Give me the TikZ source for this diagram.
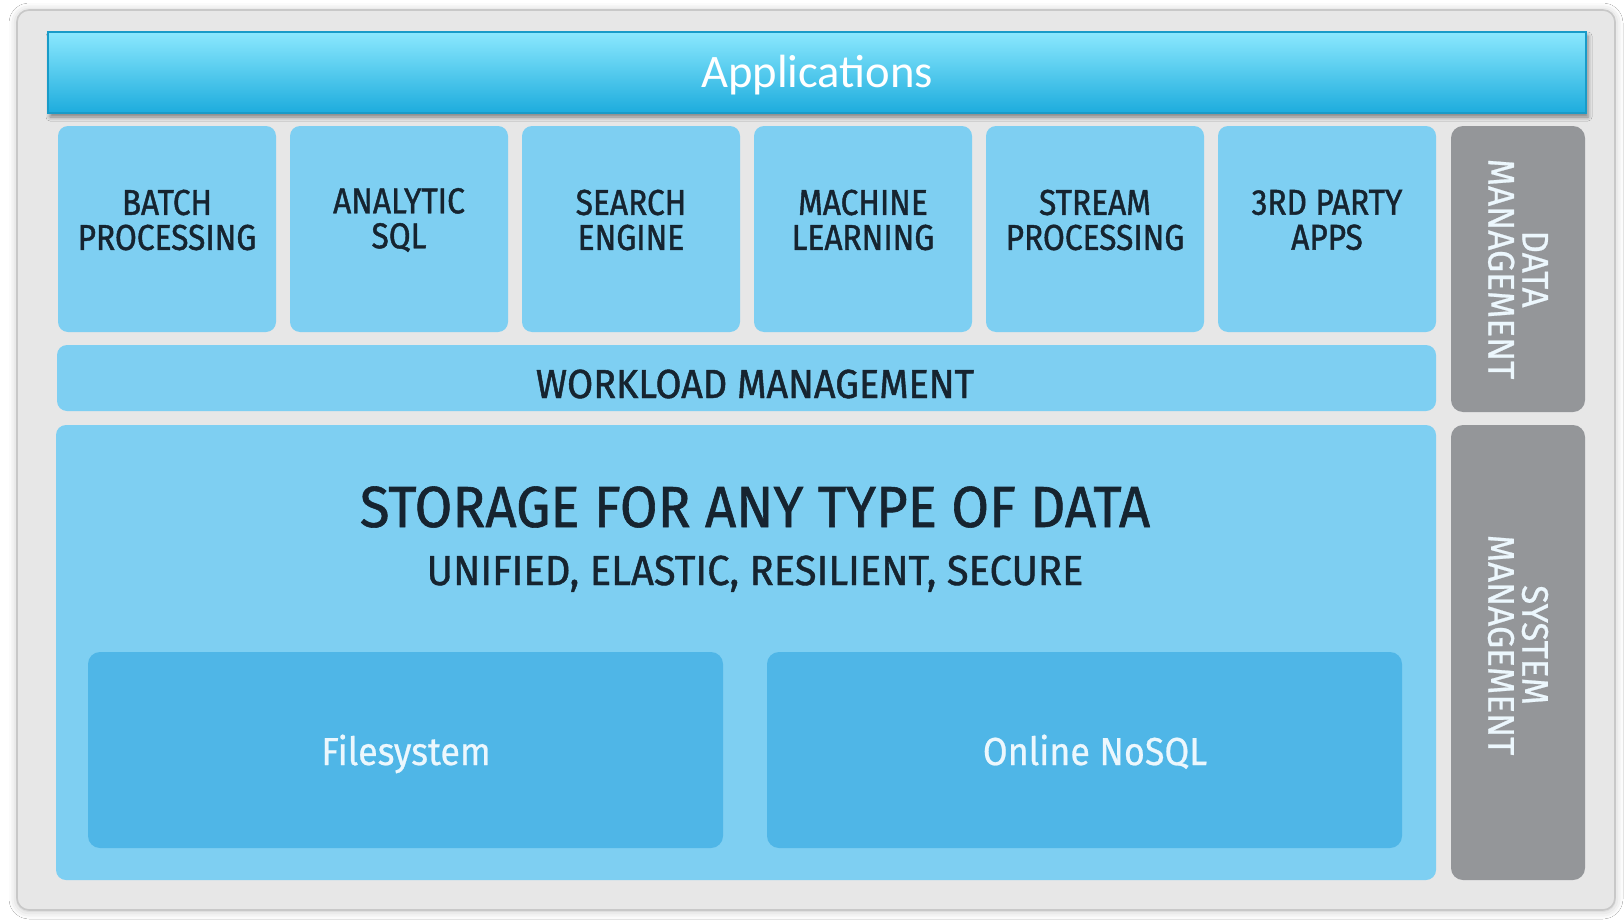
\documentclass[tikz,border=0pt]{standalone}
\usepackage{fontspec}
\setmainfont{Fira Sans}
\newfontfamily\tilefont[FakeStretch=0.88,FakeBold=1.2]{Fira Sans}
\newfontfamily\bandfont[FakeStretch=0.93,FakeBold=1.2]{Fira Sans}
\newfontfamily\headfont[FakeStretch=0.94,FakeBold=1.0]{Fira Sans}
\newfontfamily\subfont[FakeStretch=0.95,FakeBold=1.0]{Fira Sans}
\newfontfamily\deepfont[FakeStretch=0.92,FakeBold=0.6]{Fira Sans}
\newfontfamily\sidefont[FakeStretch=0.95,FakeBold=0.6]{Fira Sans}
\newfontfamily\appfont{Carlito}
\usetikzlibrary{fit,shadows.blur}

\definecolor{panel}{RGB}{231,231,231}
\definecolor{panelrim}{RGB}{200,200,200}
\definecolor{tile}{RGB}{126,207,242}
\definecolor{tiledeep}{RGB}{79,182,231}
\definecolor{slate}{RGB}{148,150,153}
\definecolor{ink}{RGB}{22,36,48}
\definecolor{paleink}{RGB}{236,247,253}
\definecolor{apptop}{RGB}{139,232,254}
\definecolor{appmid}{RGB}{95,208,240}
\definecolor{appbot}{RGB}{29,172,221}
\definecolor{apprim}{RGB}{25,155,200}

\begin{document}
\begin{tikzpicture}[x=0.5pt,y=-0.5pt,
  region/.style={inner sep=0pt, outer sep=0pt},
  panelbox/.style={region, fill=panel, draw=panelrim, line width=0.8pt, rounded corners=6pt,
    blur shadow={shadow xshift=0pt, shadow yshift=-0.5pt, shadow blur radius=4pt, shadow opacity=25}},
  appbar/.style={region, draw=apprim, line width=0.6pt, top color=apptop, middle color=appmid, bottom color=appbot,
    blur shadow={shadow xshift=1pt, shadow yshift=-2pt, shadow blur radius=2pt, shadow opacity=45}},
  tilebox/.style={region, fill=tile, rounded corners=5pt},
  deepbox/.style={region, fill=tiledeep, rounded corners=6pt},
  sidebox/.style={region, fill=slate, rounded corners=6pt},
  tiletext/.style={align=center, text=ink, font=\tilefont\fontsize{18}{17.5}\selectfont},
  bandtext/.style={anchor=base, text=ink, font=\bandfont\fontsize{20.3}{24}\selectfont},
  deeptext/.style={anchor=base, text=paleink, font=\deepfont\fontsize{19.5}{24}\selectfont},
  sidetext/.style={align=center, rotate=-90, text=paleink, font=\sidefont\fontsize{18.5}{17}\selectfont},
]
\useasboundingbox (0,0) rectangle (1624,921);
\fill[white] (0,0) rectangle (1624,921);

% outer frame
\node[panelbox, fit={(17,10)(1615,910)}] (frame) {};

% application banner
\node[appbar, fit={(48,32)(1586,113)}] (apps) {};
\node[anchor=base, text=white, font=\appfont\fontsize{23.3}{28}\selectfont] (apps-t) at (817,87) {Applications};

% engine tiles
\node[tilebox, fit={(58,126)(276,332)}]   (batch) {};
\node[tilebox, fit={(290,126)(508,332)}]  (sql) {};
\node[tilebox, fit={(522,126)(740,332)}]  (search) {};
\node[tilebox, fit={(754,126)(972,332)}]  (ml) {};
\node[tilebox, fit={(986,126)(1204,332)}] (stream) {};
\node[tilebox, fit={(1218,126)(1436,332)}] (third) {};

\node[tiletext] (batch-t)  at (167,220)  {BATCH\\PROCESSING};
\node[tiletext] (sql-t)    at (399,220)  {ANALYTIC\\SQL};
\node[tiletext] (search-t) at (631,220)  {SEARCH\\ENGINE};
\node[tiletext] (ml-t)     at (863,220)  {MACHINE\\LEARNING};
\node[tiletext] (stream-t) at (1095,220) {STREAM\\PROCESSING};
\node[tiletext] (third-t)  at (1327,220) {3RD PARTY\\APPS};

% workload band
\node[tilebox, fit={(57,345)(1436,411)}] (workload) {};
\node[bandtext] (workload-t) at (755,398) {WORKLOAD MANAGEMENT};

% storage layer
\node[tilebox, fit={(56,425)(1436,880)}] (storage) {};
\node[anchor=base, text=ink, font=\headfont\fontsize{29}{34}\selectfont] (storage-t) at (755,527) {STORAGE FOR ANY TYPE OF DATA};
\node[anchor=base, text=ink, font=\subfont\fontsize{21}{26}\selectfont] (storage-s) at (755,585) {UNIFIED, ELASTIC, RESILIENT, SECURE};

\node[deepbox, fit={(88,652)(723,848)}]   (fs) {};
\node[deepbox, fit={(767,652)(1402,848)}] (nosql) {};
\node[deeptext] (fs-t)    at (406,765)  {Filesystem};
\node[deeptext] (nosql-t) at (1095,765) {Online NoSQL};

% management columns
\node[sidebox, fit={(1451,126)(1585,412)}] (datamgmt) {};
\node[sidebox, fit={(1451,425)(1585,880)}] (sysmgmt) {};
\node[sidetext] (datamgmt-t) at (1518,269) {DATA\\MANAGEMENT};
\node[sidetext] (sysmgmt-t)  at (1518,645) {SYSTEM\\MANAGEMENT};
\end{tikzpicture}
\end{document}
